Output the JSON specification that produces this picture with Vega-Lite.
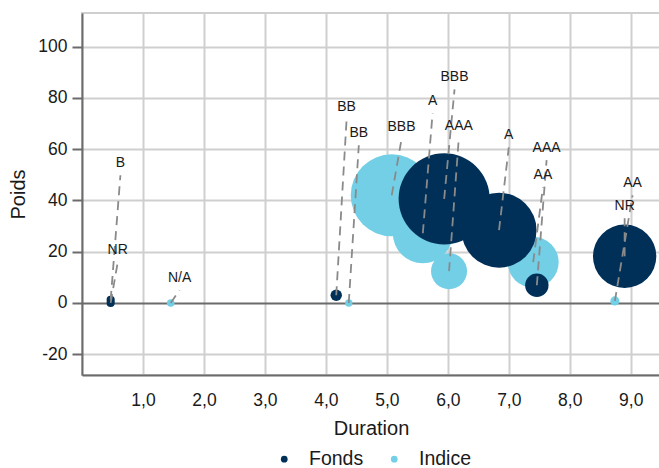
{
  "$schema": "https://vega.github.io/schema/vega-lite/v6.json",
  "width": 578,
  "height": 362,
  "autosize": {"type": "none"},
  "padding": {"left": 82, "top": 13, "right": 0, "bottom": 93},
  "config": {
    "font": "Liberation Sans",
    "view": {"stroke": "#cfcfcf", "strokeWidth": 2},
    "axis": {
      "labelFont": "Liberation Sans",
      "titleFont": "Liberation Sans",
      "labelFontSize": 17.5,
      "titleFontSize": 20,
      "titleFontWeight": "normal",
      "labelColor": "#1a1a1a",
      "titleColor": "#1a1a1a",
      "domainColor": "#6b6b6b",
      "domainWidth": 2,
      "tickColor": "#6b6b6b",
      "tickWidth": 2,
      "gridWidth": 2
    },
    "legend": {
      "labelFont": "Liberation Sans",
      "labelFontSize": 19.5,
      "labelColor": "#1a1a1a"
    }
  },
  "data": {
    "values": [
      {"serie": "Indice", "duration": 1.455, "poids": 0.0, "z": 0.7, "notation": "N/A", "lx": 1.6, "ly": 5.0},
      {"serie": "Indice", "duration": 4.375, "poids": 0.0, "z": 0.65, "notation": "BB", "lx": 4.54, "ly": 61.5},
      {"serie": "Indice", "duration": 5.08, "poids": 42.0, "z": 81, "notation": "BBB", "lx": 5.24, "ly": 63.8},
      {"serie": "Indice", "duration": 5.59, "poids": 27.2, "z": 43.4, "notation": "A", "lx": 5.75, "ly": 74.0},
      {"serie": "Indice", "duration": 6.02, "poids": 12.4, "z": 15.6, "notation": "AAA", "lx": 6.18, "ly": 64.2},
      {"serie": "Indice", "duration": 7.4, "poids": 15.9, "z": 31.3, "notation": "AA", "lx": 7.56, "ly": 45.1},
      {"serie": "Indice", "duration": 8.74, "poids": 0.8, "z": 1.0, "notation": "AA", "lx": 9.03, "ly": 42.0},
      {"serie": "Fonds", "duration": 0.47, "poids": 1.2, "z": 0.8, "notation": "B", "lx": 0.63, "ly": 49.8},
      {"serie": "Fonds", "duration": 0.47, "poids": 0.0, "z": 0.8, "notation": "NR", "lx": 0.586, "ly": 15.9},
      {"serie": "Fonds", "duration": 4.17, "poids": 3.0, "z": 1.57, "notation": "BB", "lx": 4.34, "ly": 71.6},
      {"serie": "Fonds", "duration": 5.94, "poids": 40.6, "z": 100, "notation": "BBB", "lx": 6.11, "ly": 83.3},
      {"serie": "Fonds", "duration": 6.84, "poids": 28.4, "z": 67.8, "notation": "A", "lx": 7.0, "ly": 60.7},
      {"serie": "Fonds", "duration": 7.46, "poids": 6.9, "z": 6.6, "notation": "AAA", "lx": 7.62, "ly": 55.7},
      {"serie": "Fonds", "duration": 8.9, "poids": 18.2, "z": 48.4, "notation": "NR", "lx": 8.9, "ly": 33.0}
    ]
  },
  "layer": [
    {
      "mark": {"type": "circle", "opacity": 1, "strokeWidth": 0},
      "encoding": {
        "x": {
          "field": "duration",
          "type": "quantitative",
          "title": "Duration",
          "scale": {"domain": [0, 9.48], "nice": false, "zero": false},
          "axis": {
            "values": [1, 2, 3, 4, 5, 6, 7, 8, 9],
            "labelExpr": "replace(format(datum.value, '.1f'), '.', ',')",
            "ticks": false,
            "tickSize": 0,
            "labelPadding": 16,
            "titlePadding": 10,
            "grid": true,
            "gridColor": "#cfcfcf"
          }
        },
        "y": {
          "field": "poids",
          "type": "quantitative",
          "title": "Poids",
          "scale": {"domain": [-28.1, 113.1], "nice": false, "zero": false},
          "axis": {
            "values": [-20, 0, 20, 40, 60, 80, 100],
            "labelExpr": "'' + datum.value",
            "tickSize": 10,
            "labelPadding": 5,
            "titlePadding": 9,
            "grid": true,
            "gridColor": {"condition": {"test": "datum.value === 0", "value": "#6b6b6b"}, "value": "#cfcfcf"}
          }
        },
        "size": {
          "field": "z",
          "type": "quantitative",
          "scale": {"type": "linear", "domain": [0, 100], "range": [0, 8300]},
          "legend": null
        },
        "color": {
          "field": "serie",
          "type": "nominal",
          "scale": {"domain": ["Fonds", "Indice"], "range": ["#003057", "#73cfe6"]},
          "legend": {
            "title": null,
            "orient": "none",
            "direction": "horizontal",
            "legendX": 192.5,
            "legendY": 436,
            "padding": 0,
            "symbolType": "circle",
            "symbolSize": 45,
            "symbolStrokeWidth": 0,
            "labelOffset": 15,
            "columnPadding": 21
          }
        }
      }
    },
    {
      "mark": {"type": "rule", "color": "#8a8a8a", "strokeWidth": 1.8, "strokeDash": [9, 6]},
      "encoding": {
        "x": {"field": "duration", "type": "quantitative", "title": "Duration"},
        "y": {"field": "poids", "type": "quantitative", "title": "Poids"},
        "x2": {"field": "lx"},
        "y2": {"field": "ly"}
      }
    },
    {
      "mark": {"type": "text", "fontSize": 14, "color": "#1a1a1a", "align": "center", "baseline": "middle", "dy": -12, "font": "Liberation Sans"},
      "encoding": {
        "x": {"field": "lx", "type": "quantitative", "title": "Duration"},
        "y": {"field": "ly", "type": "quantitative", "title": "Poids"},
        "text": {"field": "notation"}
      }
    }
  ]
}
